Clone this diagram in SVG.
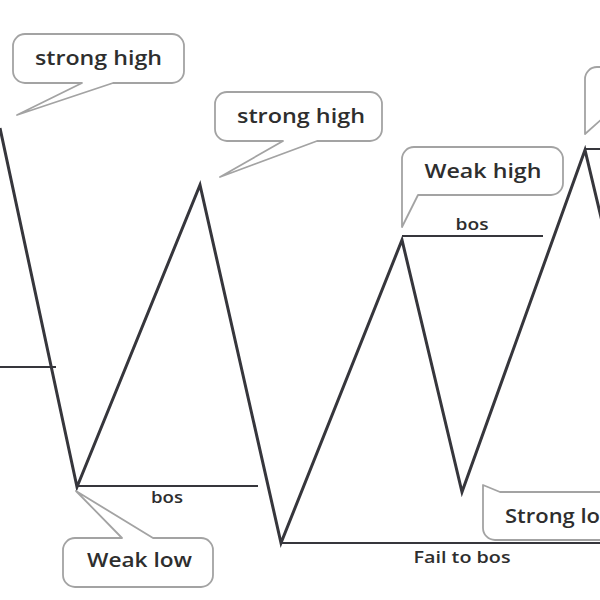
<svg xmlns="http://www.w3.org/2000/svg" width="600" height="600" viewBox="0 0 600 600">
<style>
.zig{fill:none;stroke:#36363c;stroke-width:3;stroke-linejoin:miter}
.lvl{fill:none;stroke:#36363c;stroke-width:2}
.bub{fill:#ffffff;stroke:#a3a3a3;stroke-width:1.8;stroke-linejoin:round}
.bt{font-family:"Open Sans",Roboto,sans-serif;font-weight:600;font-size:19px;fill:#2e2e2e}
.st{font-family:"Open Sans",Roboto,sans-serif;font-weight:600;font-size:16px;fill:#2e2e2e}
</style>
<rect width="600" height="600" fill="#ffffff"/>
<g id="connectors">
<path class="zig" d="M0,128 L77,487 L200,185 L281,543 L402,240 L462,492 L585,150 L610,255"/>
<line class="lvl" x1="0" y1="367" x2="56" y2="367"/>
<line class="lvl" x1="77" y1="486" x2="258" y2="486"/>
<line class="lvl" x1="281" y1="543" x2="600" y2="543"/>
<line class="lvl" x1="402" y1="236" x2="543" y2="236"/>
<line class="lvl" x1="585" y1="149" x2="600" y2="149"/>
</g>
<g id="label-bos-low"><text class="st" x="167" y="503" text-anchor="middle" textLength="32" lengthAdjust="spacingAndGlyphs">bos</text></g>
<g id="label-bos-high"><text class="st" x="472" y="230" text-anchor="middle" textLength="33" lengthAdjust="spacingAndGlyphs">bos</text></g>
<g id="label-fail"><text class="st" x="462" y="563" text-anchor="middle" textLength="97" lengthAdjust="spacingAndGlyphs">Fail to bos</text></g>
<g id="strong-high-1">
<path class="bub" d="M25,34 H172 A12,12 0 0 1 184,46 V71 A12,12 0 0 1 172,83 H113 L17,115 L82,83 H25 A12,12 0 0 1 13,71 V46 A12,12 0 0 1 25,34 Z"/>
<text class="bt" x="98.5" y="65" text-anchor="middle" textLength="127" lengthAdjust="spacingAndGlyphs">strong high</text>
</g>
<g id="strong-high-2">
<path class="bub" d="M227,92 H370 A12,12 0 0 1 382,104 V129 A12,12 0 0 1 370,141 H317 L220,177 L283,141 H227 A12,12 0 0 1 215,129 V104 A12,12 0 0 1 227,92 Z"/>
<text class="bt" x="301" y="123" text-anchor="middle" textLength="128" lengthAdjust="spacingAndGlyphs">strong high</text>
</g>
<g id="weak-high">
<path class="bub" d="M414,147 H551 A12,12 0 0 1 563,159 V183 A12,12 0 0 1 551,195 H418 L402,227 V159 A12,12 0 0 1 414,147 Z"/>
<text class="bt" x="483" y="178" text-anchor="middle" textLength="117" lengthAdjust="spacingAndGlyphs">Weak high</text>
</g>
<g id="top-right">
<path class="bub" d="M612,67 H597 A12,12 0 0 0 585,79 V134 L612,110"/>
</g>
<g id="weak-low">
<path class="bub" d="M75,538 H122 L76,491 L153,538 H201 A12,12 0 0 1 213,550 V575 A12,12 0 0 1 201,587 H75 A12,12 0 0 1 63,575 V550 A12,12 0 0 1 75,538 Z"/>
<text class="bt" x="139.5" y="567" text-anchor="middle" textLength="105" lengthAdjust="spacingAndGlyphs">Weak low</text>
</g>
<g id="strong-low">
<path class="bub" d="M612,492 H500 L483,485 V528 A12,12 0 0 0 495,540 H612"/>
<text class="bt" x="505" y="523" textLength="95" lengthAdjust="spacingAndGlyphs">Strong lo</text>
</g>
</svg>
